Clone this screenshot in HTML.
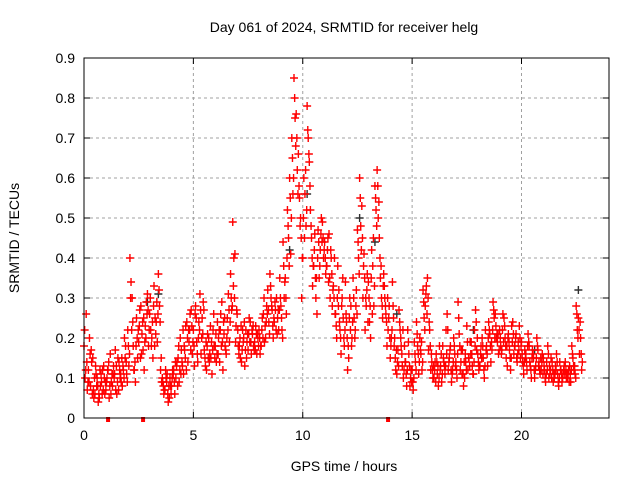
<!DOCTYPE html>
<html><head><meta charset="utf-8"><style>
body{margin:0;background:#fff}
svg text{font-family:"Liberation Sans",sans-serif;font-size:14px;fill:#000}
</style></head><body>
<svg id="chart" width="640" height="480">
<text x="344" y="32" text-anchor="middle">Day 061 of 2024, SRMTID for receiver helg</text>
<text transform="translate(19,238) rotate(-90)" text-anchor="middle">SRMTID / TECUs</text>
<text x="344" y="471" text-anchor="middle">GPS time / hours</text>
<g id="grid"></g><g id="ticks"></g><g id="marks"></g>
<rect x="84" y="58" width="525" height="360" fill="none" stroke="#000" stroke-width="1"/>
</svg>
<script>
const xTicks=[0,5,10,15,20];
const yTicks=[0,0.1,0.2,0.3,0.4,0.5,0.6,0.7,0.8,0.9];
const yTickLabels=["0","0.1","0.2","0.3","0.4","0.5","0.6","0.7","0.8","0.9"];
const seriesA=[0.18,0.26,0.12,0.08,0.15,0.06,0.10,0.05,0.09,0.13,
0.07,0.12,0.16,0.08,0.11,0.06,0.14,0.09,0.12,0.18,
0.22,0.40,0.30,0.12,0.25,0.19,0.28,0.17,0.23,0.31,
0.26,0.20,0.33,0.24,0.36,0.12,0.09,0.07,0.11,0.05,
0.08,0.12,0.10,0.15,0.20,0.13,0.17,0.24,0.19,0.27,
0.22,0.28,0.14,0.31,0.25,0.17,0.12,0.20,0.15,0.22,
0.18,0.24,0.14,0.29,0.21,0.16,0.31,0.36,0.49,0.41,
0.26,0.18,0.14,0.20,0.22,0.17,0.24,0.21,0.19,0.16,
0.22,0.18,0.26,0.20,0.32,0.36,0.27,0.24,0.30,0.22,
0.28,0.44,0.35,0.52,0.60,0.70,0.85,0.76,0.66,0.50,
0.40,0.56,0.78,0.64,0.45,0.38,0.30,0.47,0.42,0.49,
0.44,0.38,0.46,0.40,0.33,0.26,0.38,0.22,0.30,0.18,
0.24,0.15,0.28,0.35,0.22,0.47,0.60,0.53,0.41,0.28,
0.34,0.20,0.38,0.58,0.62,0.45,0.30,0.36,0.26,0.22,
0.15,0.34,0.20,0.11,0.27,0.18,0.10,0.14,0.22,0.08,
0.12,0.19,0.24,0.11,0.16,0.32,0.28,0.35,0.22,0.14,
0.10,0.16,0.08,0.13,0.18,0.11,0.26,0.15,0.09,0.20,
0.14,0.29,0.12,0.17,0.10,0.23,0.15,0.19,0.11,0.27,
0.16,0.13,0.20,0.10,0.18,0.24,0.14,0.29,0.26,0.19,
0.22,0.17,0.25,0.15,0.21,0.12,0.24,0.18,0.14,0.23,
0.19,0.11,0.16,0.21,0.13,0.17,0.10,0.20,0.14,0.12,
0.15,0.09,0.18,0.11,0.14,0.10,0.16,0.08,0.12,0.11,
0.14,0.10,0.13,0.18,0.12,0.28,0.25,0.20];
const seriesB=[0.10,0.07,0.20,0.14,0.05,0.11,0.04,0.08,0.12,0.06,
0.10,0.05,0.09,0.13,0.07,0.15,0.10,0.08,0.20,0.11,
0.13,0.34,0.18,0.09,0.15,0.27,0.21,0.12,0.29,0.18,
0.22,0.15,0.25,0.19,0.28,0.09,0.06,0.10,0.04,0.08,
0.12,0.06,0.14,0.09,0.17,0.11,0.23,0.14,0.26,0.16,
0.13,0.19,0.24,0.16,0.29,0.13,0.21,0.16,0.11,0.18,
0.14,0.20,0.26,0.12,0.18,0.25,0.19,0.27,0.40,0.23,
0.18,0.15,0.22,0.13,0.19,0.25,0.16,0.18,0.23,0.20,
0.16,0.25,0.19,0.28,0.24,0.30,0.20,0.27,0.25,0.35,
0.22,0.30,0.26,0.45,0.41,0.56,0.75,0.62,0.55,0.30,
0.60,0.48,0.70,0.52,0.33,0.46,0.26,0.35,0.50,0.40,
0.36,0.45,0.30,0.28,0.40,0.20,0.32,0.16,0.25,0.34,
0.12,0.30,0.20,0.25,0.32,0.40,0.48,0.30,0.22,0.36,
0.24,0.42,0.28,0.52,0.50,0.35,0.25,0.30,0.18,0.28,
0.20,0.25,0.12,0.17,0.22,0.13,0.18,0.08,0.16,0.12,
0.07,0.14,0.18,0.20,0.12,0.25,0.33,0.17,0.12,0.10,
0.14,0.11,0.18,0.09,0.14,0.22,0.12,0.18,0.12,0.16,
0.10,0.21,0.17,0.08,0.14,0.12,0.19,0.13,0.22,0.17,
0.12,0.18,0.15,0.22,0.13,0.21,0.17,0.25,0.20,0.16,
0.18,0.26,0.20,0.13,0.17,0.23,0.16,0.21,0.19,0.15,
0.14,0.17,0.12,0.18,0.10,0.15,0.13,0.17,0.11,0.16,
0.12,0.14,0.10,0.15,0.09,0.13,0.11,0.14,0.09,0.13,
0.10,0.12,0.09,0.15,0.11,0.22,0.16,0.12];
const seriesC=[0.22,0.14,0.09,0.17,0.07,0.13,0.08,0.12,0.06,0.10,
0.09,0.14,0.06,0.11,0.17,0.09,0.12,0.15,0.10,0.14,
0.18,0.30,0.24,0.14,0.20,0.23,0.16,0.25,0.20,0.27,
0.30,0.24,0.18,0.29,0.32,0.15,0.08,0.12,0.06,0.10,
0.10,0.09,0.13,0.18,0.11,0.22,0.15,0.20,0.22,0.23,
0.18,0.25,0.20,0.27,0.21,0.15,0.18,0.14,0.19,0.26,
0.21,0.16,0.22,0.19,0.25,0.20,0.27,0.30,0.33,0.19,
0.22,0.20,0.17,0.24,0.15,0.21,0.19,0.23,0.17,0.21,
0.20,0.22,0.30,0.24,0.27,0.33,0.23,0.29,0.21,0.27,
0.25,0.38,0.30,0.48,0.55,0.65,0.80,0.70,0.58,0.45,
0.50,0.62,0.72,0.58,0.40,0.42,0.35,0.44,0.46,0.45,
0.40,0.42,0.35,0.36,0.30,0.23,0.28,0.20,0.35,0.22,
0.20,0.25,0.18,0.30,0.28,0.44,0.55,0.45,0.35,0.32,
0.30,0.35,0.45,0.55,0.58,0.40,0.28,0.33,0.24,0.25,
0.18,0.28,0.15,0.14,0.24,0.16,0.12,0.11,0.19,0.10,
0.09,0.16,0.21,0.14,0.19,0.29,0.31,0.30,0.18,0.12,
0.12,0.14,0.10,0.16,0.15,0.13,0.22,0.17,0.11,0.18,
0.12,0.25,0.14,0.11,0.16,0.19,0.13,0.16,0.14,0.24,
0.14,0.16,0.18,0.13,0.16,0.22,0.19,0.27,0.23,0.21,
0.20,0.22,0.23,0.18,0.19,0.15,0.21,0.20,0.16,0.20,
0.16,0.14,0.14,0.19,0.12,0.16,0.12,0.18,0.12,0.14,
0.13,0.11,0.16,0.12,0.12,0.11,0.14,0.10,0.11,0.12,
0.12,0.11,0.11,0.16,0.13,0.26,0.22,0.16];
const seriesD=[0.12,0.09,0.16,0.06,0.10,0.08,0.06,0.11,0.07,0.09,
0.12,0.08,0.11,0.10,0.13,0.07,0.11,0.13,0.15,0.09,
0.16,0.22,0.12,0.18,0.22,0.15,0.24,0.19,0.26,0.22,
0.18,0.28,0.21,0.26,0.24,0.10,0.07,0.09,0.08,0.06,
0.11,0.14,0.08,0.12,0.14,0.18,0.12,0.22,0.17,0.19,
0.26,0.16,0.22,0.20,0.27,0.19,0.15,0.23,0.17,0.15,
0.16,0.22,0.18,0.24,0.17,0.22,0.24,0.28,0.30,0.27,
0.16,0.23,0.19,0.17,0.21,0.19,0.22,0.17,0.21,0.18,
0.18,0.20,0.23,0.26,0.21,0.28,0.25,0.22,0.27,0.30,
0.20,0.34,0.40,0.38,0.50,0.60,0.68,0.56,0.48,0.40,
0.45,0.52,0.66,0.48,0.38,0.35,0.40,0.38,0.44,0.42,
0.38,0.34,0.42,0.32,0.26,0.30,0.24,0.28,0.20,0.26,
0.18,0.22,0.24,0.20,0.26,0.36,0.42,0.38,0.30,0.24,
0.28,0.26,0.33,0.48,0.54,0.38,0.33,0.28,0.30,0.20,
0.22,0.18,0.17,0.13,0.20,0.22,0.14,0.12,0.13,0.09,
0.10,0.12,0.16,0.17,0.14,0.22,0.26,0.24,0.16,0.13,
0.09,0.13,0.12,0.11,0.13,0.16,0.14,0.12,0.14,0.13,
0.16,0.18,0.11,0.14,0.12,0.15,0.16,0.11,0.18,0.20,
0.13,0.15,0.12,0.17,0.20,0.18,0.22,0.20,0.21,0.17,
0.16,0.19,0.18,0.20,0.15,0.19,0.18,0.15,0.17,0.18,
0.13,0.15,0.18,0.14,0.15,0.12,0.15,0.13,0.15,0.11,
0.10,0.12,0.13,0.10,0.11,0.12,0.09,0.12,0.10,0.11,
0.11,0.09,0.12,0.13,0.10,0.20,0.24,0.14];
const darkTimes=[2.9,3.4,9.4,10.2,12.6,13.3,14.3,17.8,20.6,22.6];
const darkValues=[0.29,0.31,0.42,0.56,0.50,0.44,0.26,0.22,0.17,0.32];
const flagTimes=[1.1,2.7,13.9];
const X0=84,X1=609,Y0=418,Y1=58,XMAX=24,YMAX=0.9;
const sx=t=>X0+t/XMAX*(X1-X0);
const sy=v=>Y0-v/YMAX*(Y0-Y1);
const NS="http://www.w3.org/2000/svg";
function mk(tag,attrs,parent){const e=document.createElementNS(NS,tag);for(const k in attrs)e.setAttribute(k,attrs[k]);parent.appendChild(e);return e;}
const grid=document.getElementById('grid'),ticks=document.getElementById('ticks'),marks=document.getElementById('marks');
xTicks.forEach(t=>{const x=sx(t);
 if(t>0){const g=mk('line',{x1:x,x2:x,y1:Y0,y2:Y1,stroke:'#a0a0a0','stroke-dasharray':'3,3'},grid);
 
 }
 mk('line',{x1:x,x2:x,y1:Y0,y2:Y0-6,stroke:'#000'},ticks);
 mk('line',{x1:x,x2:x,y1:Y1,y2:Y1+6,stroke:'#000'},ticks);
 const l=mk('text',{x:x,y:Y0+22,'text-anchor':'middle'},ticks);l.textContent=t;
 
 });
yTicks.forEach((v,i)=>{const y=sy(v);
 if(v>0&&v<YMAX){const g=mk('line',{x1:X0,x2:X1,y1:y,y2:y,stroke:'#a0a0a0','stroke-dasharray':'3,3'},grid);
 
 }
 mk('line',{x1:X0,x2:X0+6,y1:y,y2:y,stroke:'#000'},ticks);
 mk('line',{x1:X1,x2:X1-6,y1:y,y2:y,stroke:'#000'},ticks);
 const l=mk('text',{x:X0-9,y:y+5,'text-anchor':'end'},ticks);l.textContent=yTickLabels[i];
 
 });
function cross(t,v,col,name){const x=sx(t),y=sy(v);
 const p=mk('path',{d:`M${x-4},${y}H${x+4}M${x},${y-4}V${y+4}`,stroke:col,'stroke-width':1.4,fill:'none'},marks);
 
 }
darkTimes.forEach((t,i)=>cross(t,darkValues[i],'#303030','dark-point'));
seriesA.forEach((v,i)=>cross(i*0.1,v,'#ff0000','red-point'));
seriesB.forEach((v,i)=>cross(i*0.1+0.05,v,'#ff0000','red-point'));
seriesC.forEach((v,i)=>cross(i*0.1+0.03,v,'#ff0000','red-point'));
seriesD.forEach((v,i)=>cross(i*0.1+0.08,v,'#ff0000','red-point'));
flagTimes.forEach(t=>{const r=mk('rect',{x:sx(t)-2,y:Y0-1,width:4,height:5,fill:'#ff0000'},marks);
 
 });
</script>
</body></html>
